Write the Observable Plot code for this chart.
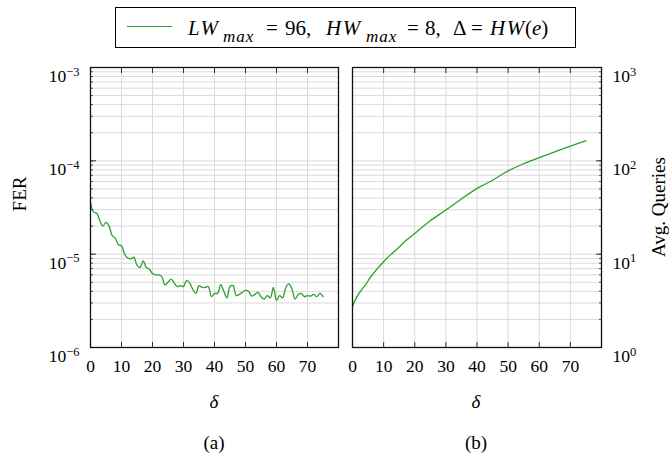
<!DOCTYPE html>
<html><head><meta charset="utf-8">
<script src="https://cdn.jsdelivr.net/npm/d3@7"></script>
<script src="https://cdn.jsdelivr.net/npm/@observablehq/plot@0.6"></script>
<style>
body{margin:0;background:#fff;}
#wrap{position:relative;width:669px;height:455px;font-family:"Liberation Serif",serif;color:#000;overflow:hidden;}
#wrap svg{position:absolute;top:0;}
#legend{position:absolute;left:115px;top:7px;width:461px;height:41px;border:1.3px solid #000;box-sizing:border-box;background:#fff;}
#legend .ln{position:absolute;left:11px;top:18px;width:45px;height:0;border-top:1.4px solid #2ca02c;}
.tok{position:absolute;top:25px;font-size:21px;white-space:nowrap;line-height:1;transform:translateY(-70%);}
.tok.m{font-style:italic;letter-spacing:1.5px;}
.tok.s{font-style:italic;font-size:17px;letter-spacing:1px;top:32px;}
.lab{position:absolute;font-size:19px;white-space:nowrap;transform:translate(-50%,-50%);line-height:1;}
.rot{transform:translate(-50%,-50%) rotate(-90deg);}
</style></head>
<body><div id="wrap"></div>
<script>
// ---- data ----
const deltaA = [0,1,2,3,4,5,6,7,8,9,10,11,12,13,14,15,16,17,18,19,20,21,22,23,24,25,26,27,28,29,30,31,32,33,34,35,36,37,38,39,40,41,42,43,44,45,46,47,48,49,50,51,52,53,54,55,56,57,58,59,60,61,62,63,64,65,66,67,68,69,70,71,72,73,74,75];
const fer = [3.63e-5,2.82e-5,2.75e-5,2.29e-5,2.0e-5,2.19e-5,2.0e-5,1.58e-5,1.48e-5,1.26e-5,
  1.23e-5,1.0e-5,9.1e-6,8.9e-6,9.3e-6,7.6e-6,7.2e-6,8.5e-6,7.2e-6,6.9e-6,
  6.2e-6,6.0e-6,6.0e-6,5.75e-6,4.7e-6,5.0e-6,5.4e-6,4.9e-6,4.5e-6,4.6e-6,
  4.5e-6,5.25e-6,4.9e-6,4.2e-6,3.8e-6,4.6e-6,4.4e-6,4.4e-6,4.5e-6,3.5e-6,
  3.8e-6,3.8e-6,4.7e-6,4.0e-6,3.4e-6,4.5e-6,4.6e-6,3.6e-6,3.7e-6,3.9e-6,
  4.1e-6,4.0e-6,3.55e-6,3.7e-6,3.9e-6,3.5e-6,3.3e-6,3.6e-6,3.4e-6,4.4e-6,
  3.2e-6,3.6e-6,3.4e-6,4.4e-6,4.8e-6,4.2e-6,3.3e-6,3.7e-6,3.8e-6,3.5e-6,
  3.6e-6,3.55e-6,3.7e-6,3.5e-6,3.8e-6,3.5e-6];
const deltaB = [0,1,2,3,4,6,8,10,12,14,17,20,25,30,35,40,42,45,50,55,60,65,70,75];
const queries = [2.75,3.3,3.75,4.2,4.6,5.8,7.0,8.3,9.7,11.1,13.8,16.7,22.8,29.7,39,50.7,55,62,78,93,108,125,144,164];
const xTicks = [0,10,20,30,40,50,60,70];
const ferDecades = [1e-6,1e-5,1e-4,1e-3];
const ferExp = ["−6","−5","−4","−3"];
const qDecades = [1,10,100,1000];
const qExp = ["0","1","2","3"];
// legend tokens: [left x in page px, text, kind]
const legendTokens = [[188,"LW","m"],[223,"max","s"],[266,"=",""],[285,"96,",""],[326,"HW","m"],[366,"max","s"],[407,"=",""],[425,"8,",""],[453,"Δ",""],[471,"=",""],[490,"HW","m"],[525,"(<i>e</i>)",""]];

const green = "#2ca02c";
const gridC = "#dadada";
const blank = () => "";
const FF = "Liberation Serif";
const SERIF = "font-family:'Liberation Serif',serif;font-variant:normal;font-variant-numeric:normal;";
function minors(decs){const m=[];for(let i=0;i<decs.length-1;i++)for(let k=1;k<10;k++)m.push(decs[i]*k);m.push(decs[decs.length-1]);return m;}

function panel({x, y, decades, exps, side, left, width, mL, mR}) {
  const minor = minors(decades);
  const svg = Plot.plot({
    width, height: 455, marginLeft: mL, marginRight: mR, marginTop: 67, marginBottom: 108,
    style: {fontFamily: "'Liberation Serif', serif", fontSize: "17.5px", background: "transparent", color: "#000"},
    x: {domain: [0, 80]},
    y: {type: "log", domain: [decades[0], decades[3]]},
    marks: [
      Plot.ruleY(minor, {stroke: gridC, strokeWidth: 1}),
      Plot.ruleX(xTicks.slice(1), {stroke: gridC, strokeWidth: 1}),
      Plot.line(x.map((d,i)=>({x:d,y:y[i]})), {x:"x", y:"y", stroke: green, strokeWidth: 1.3, curve: "catmull-rom"}),
      Plot.axisX(xTicks, {anchor: "bottom", tickSize: -5, tickFormat: blank, label: null, stroke: "#333"}),
      Plot.axisX(xTicks, {anchor: "top", tickSize: -5, tickFormat: blank, label: null, stroke: "#333"}),
      Plot.axisX(xTicks, {anchor: "bottom", tickSize: 0, tickPadding: 12, label: null, fontFamily: FF, fontVariant: "normal", fontSize: 17.5}),
      Plot.axisY(minor, {anchor: side, tickSize: -3, tickFormat: blank, label: null, stroke: "#555"}),
      Plot.axisY(decades, {anchor: side, tickSize: -6, tickFormat: blank, label: null, stroke: "#333"}),
      Plot.axisY(decades, {anchor: side, tickSize: 0, tickPadding: 11, tickFormat: d => "10^" + exps[decades.indexOf(d)], label: null, fontFamily: FF, fontVariant: "normal", fontSize: 17.5}),
      Plot.frame({stroke: "#111", strokeWidth: 1.3})
    ]
  });
  svg.style.left = left + "px";
  svg.style.fontFamily = "'Liberation Serif', serif";
  d3.select(svg).selectAll("[font-variant]").attr("font-variant", null);
  d3.select(svg).selectAll("g").attr("font-family", FF);
  d3.select(svg).selectAll("text").attr("font-family", FF).attr("style", SERIF + "font-size:17.5px;").each(function(){
    const t = this.textContent; if (!t.startsWith("10^")) return;
    const e = t.slice(3);
    this.textContent = "";
    d3.select(this).append("tspan").attr("style", SERIF + "font-size:17.5px;").text("10");
    d3.select(this).append("tspan").attr("style", SERIF + "font-size:12.5px;").attr("dy", "-0.5em").text(e);
    d3.select(this).attr("dy", "0.5em");
  });
  return svg;
}

const wrap = document.getElementById("wrap");
wrap.appendChild(panel({x: deltaA, y: fer, decades: ferDecades, exps: ferExp, side: "left", left: 0, width: 345, mL: 90, mR: 7}));
wrap.appendChild(panel({x: deltaB, y: queries, decades: qDecades, exps: qExp, side: "right", left: 345, width: 324, mL: 7, mR: 68}));

function lab(html, x, y, cls) { const d = document.createElement("div"); d.className = "lab" + (cls ? " " + cls : ""); d.style.left = x + "px"; d.style.top = y + "px"; d.innerHTML = html; wrap.appendChild(d); }
lab("<i>δ</i>", 214, 401);
lab("<i>δ</i>", 476, 401);
lab("(a)", 214, 442);
lab("(b)", 476, 442);
lab("FER", 19, 194, "rot");
lab("Avg. Queries", 658, 207, "rot");

const lg = document.createElement("div"); lg.id = "legend";
lg.innerHTML = '<div class="ln"></div>';
for (const [px, t, k] of legendTokens) {
  const s = document.createElement("span");
  s.className = "tok" + (k ? " " + k : "");
  s.style.left = (px - 116) + "px";
  s.innerHTML = t;
  lg.appendChild(s);
}
wrap.appendChild(lg);
</script></body></html>
